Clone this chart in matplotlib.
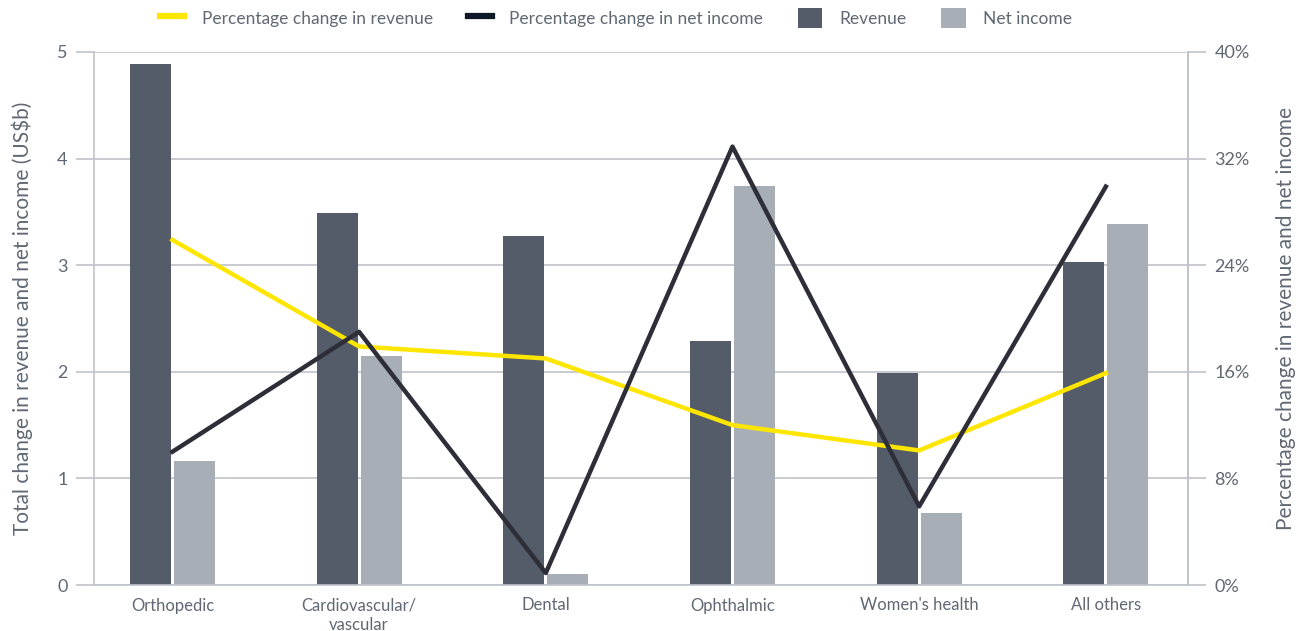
import matplotlib
matplotlib.use("Agg")
import matplotlib.pyplot as plt
import numpy as np
from matplotlib.lines import Line2D
from matplotlib.patches import Patch

categories = ["Orthopedic", "Cardiovascular/\nvascular", "Dental", "Ophthalmic", "Women's health", "All others"]
revenue = [4.89, 3.49, 3.27, 2.29, 1.99, 3.03]
net_income = [1.16, 2.15, 0.10, 3.74, 0.68, 3.39]
pct_revenue = [25.9, 17.9, 17.0, 12.0, 10.1, 15.9]
pct_net_income = [10.0, 19.0, 0.9, 32.9, 5.9, 29.9]
left_ticks = [0, 1, 2, 3, 4, 5]
right_ticks = [0, 8, 16, 24, 32, 40]

plt.rcParams['font.family'] = ['Lato', 'DejaVu Sans']
TXT = '#5f6873'
GRID = '#bfc4ca'
C_REV = '#535c68'
C_NI = '#a8aeb5'
C_Y = '#ffe600'
C_K = '#2e2e38'

fig = plt.figure(figsize=(13.01, 6.31), dpi=100)
ax = fig.add_axes([94/1301, 1-585/631, (1188-94)/1301, (585-52)/631])
x = np.arange(len(categories))
w = 0.22
off = 0.118
ax.bar(x - off, revenue, w, color=C_REV, zorder=2)
ax.bar(x + off, net_income, w, color=C_NI, zorder=2)
ax.set_xlim(-0.42, 5.44)
ax.set_ylim(0, 5)
ax.set_yticks(left_ticks)
ax.yaxis.grid(True, color=GRID, linewidth=1.2, zorder=0)
ax.set_axisbelow(True)
ax.set_xticks(x)
ax.set_xticklabels(categories, fontsize=12, color=TXT, linespacing=1.3)
ax.tick_params(axis='x', length=0, pad=9)
ax.tick_params(axis='y', length=13, color=GRID, width=1.2, labelsize=13, labelcolor=TXT, pad=6)
for s in ['top']:
    ax.spines[s].set_visible(False)
for s in ['left', 'right', 'bottom']:
    ax.spines[s].set_color(GRID)
    ax.spines[s].set_linewidth(1.2)
ax.set_ylabel("Total change in revenue and net income (US$b)", fontsize=15, color=TXT, labelpad=17)

ax2 = ax.twinx()
ax2.plot(x, pct_revenue, color=C_Y, linewidth=3.2, zorder=3)
ax2.plot(x, pct_net_income, color=C_K, linewidth=3.2, zorder=4)
ax2.set_ylim(0, 40)
ax2.set_yticks(right_ticks)
ax2.set_yticklabels([f"{t}%" for t in right_ticks])
ax2.tick_params(axis='y', length=13, color=GRID, width=1.2, labelsize=13, labelcolor=TXT, pad=6)
for s in ['top', 'left', 'bottom']:
    ax2.spines[s].set_visible(False)
ax2.spines['right'].set_color(GRID)
ax2.spines['right'].set_linewidth(1.2)
ax2.set_ylabel("Percentage change in revenue and net income", fontsize=15, color=TXT, labelpad=19)

handles = [
    Line2D([0], [0], color=C_Y, linewidth=4.5),
    Line2D([0], [0], color='#0e1726', linewidth=4.5),
    Patch(facecolor=C_REV),
    Patch(facecolor=C_NI),
]
labels = ["Percentage change in revenue", "Percentage change in net income", "Revenue", "Net income"]
leg = fig.legend(handles, labels, loc='center', bbox_to_anchor=(616/1301, 1-18/631), ncol=4,
                 frameon=False, fontsize=12.5, labelcolor=TXT, handlelength=1.4, handleheight=1.4,
                 columnspacing=2.0, handletextpad=1.0)

fig.savefig("out.png", dpi=100)
